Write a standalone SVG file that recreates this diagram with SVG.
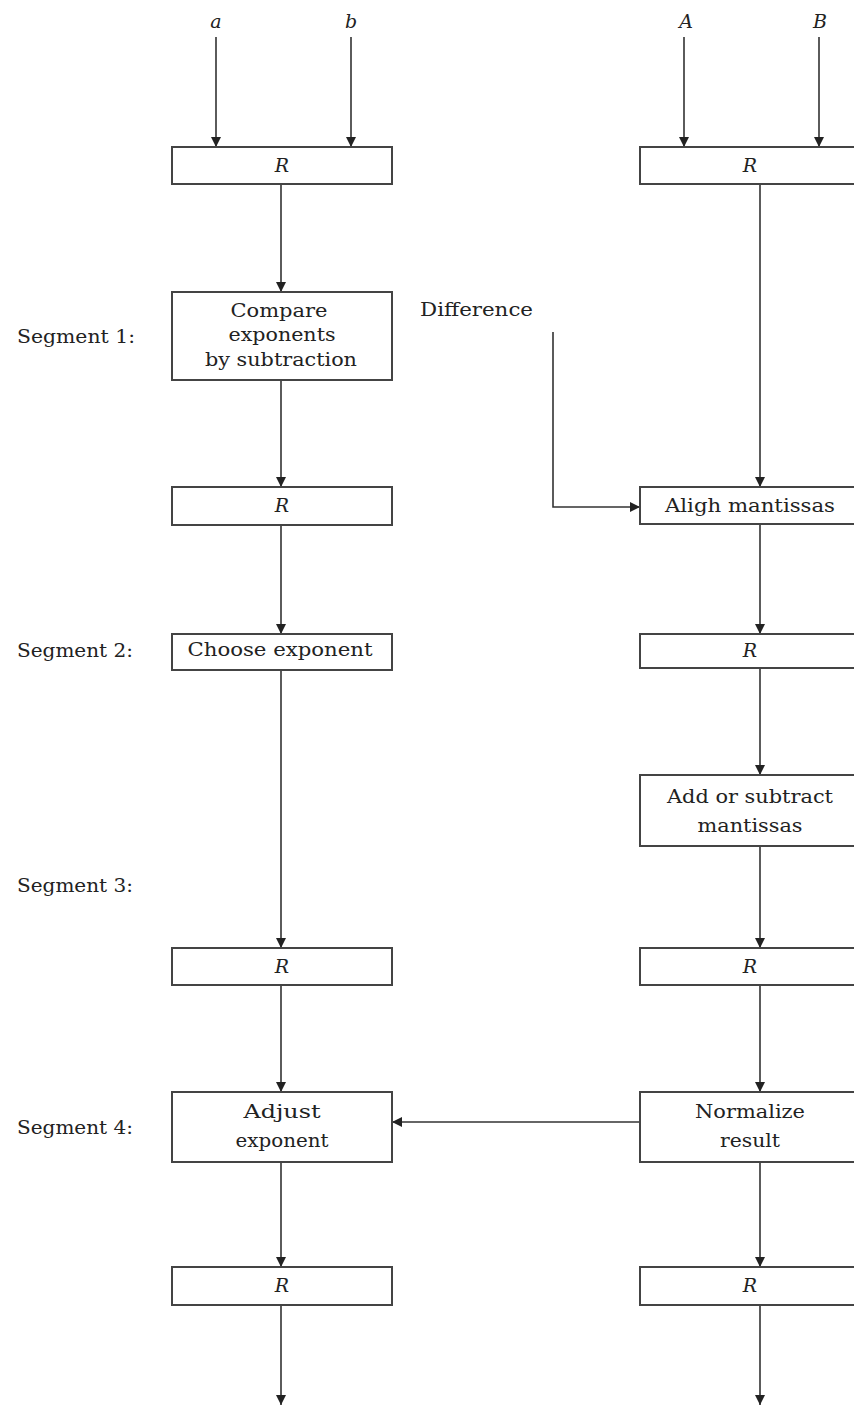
<svg xmlns="http://www.w3.org/2000/svg" width="854" height="1410" viewBox="0 0 854 1410">
<defs>
<marker id="ah" viewBox="0 0 10 10" refX="10" refY="5" markerWidth="11" markerHeight="10" markerUnits="userSpaceOnUse" orient="auto">
<path d="M0,0 L10,5 L0,10 z" fill="#222"/>
</marker>
<style>
.box{fill:#fff;stroke:#444;stroke-width:2}
.t{font-family:"DejaVu Serif","Liberation Serif",serif;font-size:19px;fill:#222;text-anchor:middle}
.l{font-family:"DejaVu Serif","Liberation Serif",serif;font-size:19px;fill:#222}
.i{font-family:"DejaVu Serif","Liberation Serif",serif;font-size:19px;font-style:italic;fill:#222;text-anchor:middle}
.c{stroke:#333;stroke-width:1.6;fill:none;marker-end:url(#ah)}
</style>
</defs>
<rect width="854" height="1410" fill="#fff"/>
<g id="labels">
<text class="i" x="216" y="28">a</text>
<text class="i" x="351" y="28">b</text>
<text class="i" x="686" y="28">A</text>
<text class="i" x="820" y="28">B</text>
<text class="l" x="17" y="343" textLength="118" lengthAdjust="spacingAndGlyphs">Segment 1:</text>
<text class="l" x="17" y="657" textLength="116" lengthAdjust="spacingAndGlyphs">Segment 2:</text>
<text class="l" x="17" y="892" textLength="116" lengthAdjust="spacingAndGlyphs">Segment 3:</text>
<text class="l" x="17" y="1134" textLength="116" lengthAdjust="spacingAndGlyphs">Segment 4:</text>
<text class="l" x="420" y="316" textLength="113" lengthAdjust="spacingAndGlyphs">Difference</text>
</g>
<g id="connectors">
<line class="c" x1="216" y1="37" x2="216" y2="147"/>
<line class="c" x1="351" y1="37" x2="351" y2="147"/>
<line class="c" x1="684" y1="37" x2="684" y2="147"/>
<line class="c" x1="819" y1="37" x2="819" y2="147"/>
<line class="c" x1="281" y1="184" x2="281" y2="292"/>
<line class="c" x1="281" y1="380" x2="281" y2="487"/>
<line class="c" x1="281" y1="525" x2="281" y2="634"/>
<line class="c" x1="281" y1="670" x2="281" y2="948"/>
<line class="c" x1="281" y1="985" x2="281" y2="1092"/>
<line class="c" x1="281" y1="1162" x2="281" y2="1267"/>
<line class="c" x1="281" y1="1305" x2="281" y2="1405"/>
<line class="c" x1="760" y1="184" x2="760" y2="487"/>
<line class="c" x1="760" y1="524" x2="760" y2="634"/>
<line class="c" x1="760" y1="668" x2="760" y2="775"/>
<line class="c" x1="760" y1="846" x2="760" y2="948"/>
<line class="c" x1="760" y1="985" x2="760" y2="1092"/>
<line class="c" x1="760" y1="1162" x2="760" y2="1267"/>
<line class="c" x1="760" y1="1305" x2="760" y2="1405"/>
<polyline class="c" points="553,332 553,507 640,507"/>
<line class="c" x1="640" y1="1122" x2="392" y2="1122"/>
</g>
<g id="r1l"><rect class="box" x="172" y="147" width="220" height="37"/><text class="i" x="282" y="172">R</text></g>
<g id="r1r"><rect class="box" x="640" y="147" width="220" height="37"/><text class="i" x="750" y="172">R</text></g>
<g id="compare"><rect class="box" x="172" y="292" width="220" height="88"/>
<text class="t" x="279" y="317" textLength="97" lengthAdjust="spacingAndGlyphs">Compare</text>
<text class="t" x="282" y="341" textLength="107" lengthAdjust="spacingAndGlyphs">exponents</text>
<text class="t" x="281" y="366" textLength="152" lengthAdjust="spacingAndGlyphs">by subtraction</text></g>
<g id="r2l"><rect class="box" x="172" y="487" width="220" height="38"/><text class="i" x="282" y="512">R</text></g>
<g id="align"><rect class="box" x="640" y="487" width="220" height="37"/><text class="t" x="750" y="512" textLength="170" lengthAdjust="spacingAndGlyphs">Aligh mantissas</text></g>
<g id="choose"><rect class="box" x="172" y="634" width="220" height="36"/><text class="t" x="280" y="656" textLength="185" lengthAdjust="spacingAndGlyphs">Choose exponent</text></g>
<g id="r2r"><rect class="box" x="640" y="634" width="220" height="34"/><text class="i" x="750" y="657">R</text></g>
<g id="addsub"><rect class="box" x="640" y="775" width="220" height="71"/>
<text class="t" x="750" y="803" textLength="166" lengthAdjust="spacingAndGlyphs">Add or subtract</text>
<text class="t" x="750" y="832" textLength="105" lengthAdjust="spacingAndGlyphs">mantissas</text></g>
<g id="r3l"><rect class="box" x="172" y="948" width="220" height="37"/><text class="i" x="282" y="973">R</text></g>
<g id="r3r"><rect class="box" x="640" y="948" width="220" height="37"/><text class="i" x="750" y="973">R</text></g>
<g id="adjust"><rect class="box" x="172" y="1092" width="220" height="70"/>
<text class="t" x="282" y="1118" textLength="77" lengthAdjust="spacingAndGlyphs">Adjust</text>
<text class="t" x="282" y="1147" textLength="93" lengthAdjust="spacingAndGlyphs">exponent</text></g>
<g id="normalize"><rect class="box" x="640" y="1092" width="220" height="70"/>
<text class="t" x="750" y="1118" textLength="110" lengthAdjust="spacingAndGlyphs">Normalize</text>
<text class="t" x="750" y="1147" textLength="60" lengthAdjust="spacingAndGlyphs">result</text></g>
<g id="r4l"><rect class="box" x="172" y="1267" width="220" height="38"/><text class="i" x="282" y="1292">R</text></g>
<g id="r4r"><rect class="box" x="640" y="1267" width="220" height="38"/><text class="i" x="750" y="1292">R</text></g>
</svg>
